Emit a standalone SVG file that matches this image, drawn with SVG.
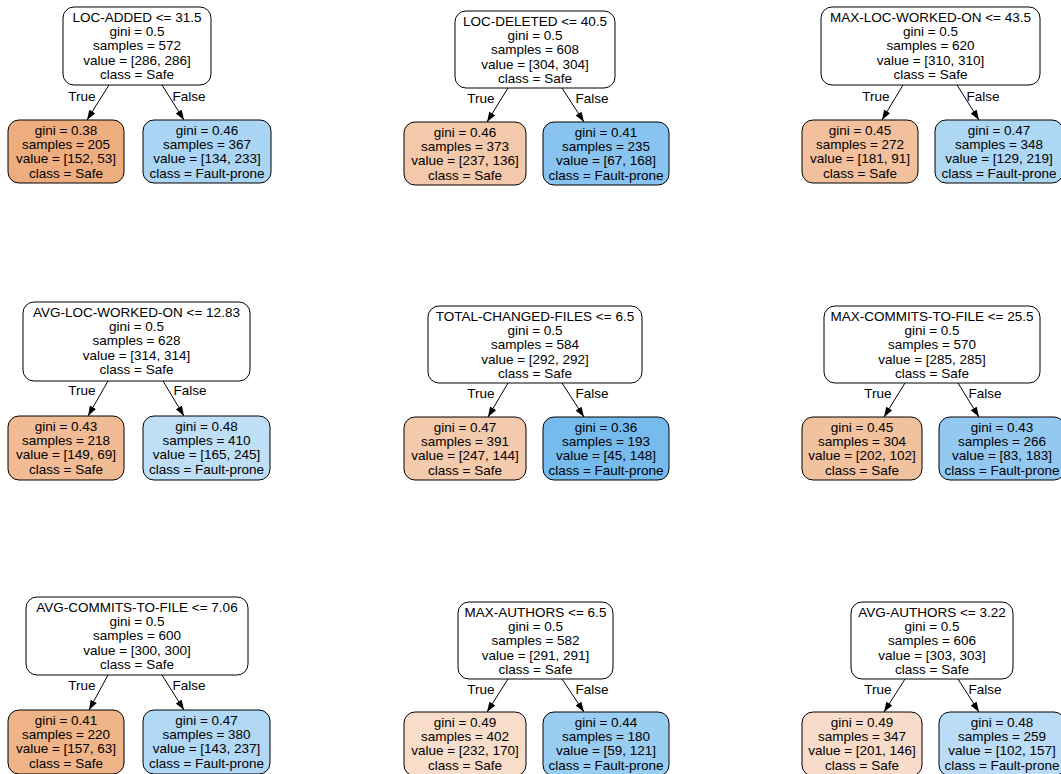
<svg xmlns="http://www.w3.org/2000/svg" width="1061" height="774" viewBox="0 0 1061 774">
<style>
text{font-family:"Liberation Sans",Arial,Helvetica,sans-serif;font-size:13.5px;fill:#000;text-anchor:middle}
rect{stroke:#000;stroke-width:1;rx:11;ry:11}
.root{fill:#fff}
.edge{stroke:#000;stroke-width:1;fill:none;marker-end:url(#arr)}
</style>
<defs>
<marker id="arr" markerUnits="userSpaceOnUse" markerWidth="10" markerHeight="8" refX="10" refY="3.5" orient="auto"><path d="M0,0 L10,3.5 L0,7 z" fill="#000"/></marker>
</defs>
<rect x="0" y="0" width="1061" height="774" fill="#fff" style="stroke:none"/>

<g id="connectors">
<path class="edge" d="M109,85 L87,120"/><path class="edge" d="M162,85 L184,120"/>
<path class="edge" d="M508,88 L487,122"/><path class="edge" d="M562,88 L584,122"/>
<path class="edge" d="M903,85 L882,120"/><path class="edge" d="M957,85 L979,120"/>
<path class="edge" d="M108,381 L88,416"/><path class="edge" d="M163,381 L184,416"/>
<path class="edge" d="M508,383 L488,417"/><path class="edge" d="M562,383 L584,417"/>
<path class="edge" d="M905,383 L884,417"/><path class="edge" d="M958,383 L979,417"/>
<path class="edge" d="M108,675 L89,710"/><path class="edge" d="M162,675 L184,710"/>
<path class="edge" d="M508,679 L487,712"/><path class="edge" d="M562,679 L584,712"/>
<path class="edge" d="M905,679 L884,712"/><path class="edge" d="M958,679 L979,712"/>
<text x="82" y="100.5">True</text><text x="189" y="100.5">False</text>
<text x="481" y="102.5">True</text><text x="592" y="102.5">False</text>
<text x="876" y="100.5">True</text><text x="983" y="100.5">False</text>
<text x="82" y="394.5">True</text><text x="190" y="394.5">False</text>
<text x="481" y="397.5">True</text><text x="592" y="397.5">False</text>
<text x="878" y="397.5">True</text><text x="985" y="397.5">False</text>
<text x="82" y="689.5">True</text><text x="189" y="689.5">False</text>
<text x="481" y="693.5">True</text><text x="592" y="693.5">False</text>
<text x="878" y="693.5">True</text><text x="985" y="693.5">False</text>
</g>

<!-- Tree 1 -->
<g id="t1-root"><rect class="root" x="63" y="7" width="148" height="78"/>
<text x="137" y="21.8"><tspan x="137">LOC-ADDED &lt;= 31.5</tspan><tspan x="137" dy="14.3">gini = 0.5</tspan><tspan x="137" dy="14.3">samples = 572</tspan><tspan x="137" dy="14.3">value = [286, 286]</tspan><tspan x="137" dy="14.3">class = Safe</tspan></text></g>
<g id="t1-left"><rect x="8" y="120" width="116" height="63" fill="#eead7e"/>
<text x="66" y="134.8"><tspan x="66">gini = 0.38</tspan><tspan x="66" dy="14.3">samples = 205</tspan><tspan x="66" dy="14.3">value = [152, 53]</tspan><tspan x="66" dy="14.3">class = Safe</tspan></text></g>
<g id="t1-right"><rect x="143" y="120" width="128" height="63" fill="#abd5f4"/>
<text x="207" y="134.8"><tspan x="207">gini = 0.46</tspan><tspan x="207" dy="14.3">samples = 367</tspan><tspan x="207" dy="14.3">value = [134, 233]</tspan><tspan x="207" dy="14.3">class = Fault-prone</tspan></text></g>

<!-- Tree 2 -->
<g id="t2-root"><rect class="root" x="455" y="11" width="160" height="77"/>
<text x="535" y="25.8"><tspan x="535">LOC-DELETED &lt;= 40.5</tspan><tspan x="535" dy="14.3">gini = 0.5</tspan><tspan x="535" dy="14.3">samples = 608</tspan><tspan x="535" dy="14.3">value = [304, 304]</tspan><tspan x="535" dy="14.3">class = Safe</tspan></text></g>
<g id="t2-left"><rect x="404" y="122" width="122" height="63" fill="#f4c9ab"/>
<text x="465" y="136.8"><tspan x="465">gini = 0.46</tspan><tspan x="465" dy="14.3">samples = 373</tspan><tspan x="465" dy="14.3">value = [237, 136]</tspan><tspan x="465" dy="14.3">class = Safe</tspan></text></g>
<g id="t2-right"><rect x="543" y="122" width="126" height="63" fill="#88c4ef"/>
<text x="606" y="136.8"><tspan x="606">gini = 0.41</tspan><tspan x="606" dy="14.3">samples = 235</tspan><tspan x="606" dy="14.3">value = [67, 168]</tspan><tspan x="606" dy="14.3">class = Fault-prone</tspan></text></g>

<!-- Tree 3 -->
<g id="t3-root"><rect class="root" x="821" y="7" width="219" height="78"/>
<text x="930.5" y="21.8"><tspan x="930.5">MAX-LOC-WORKED-ON &lt;= 43.5</tspan><tspan x="930.5" dy="14.3">gini = 0.5</tspan><tspan x="930.5" dy="14.3">samples = 620</tspan><tspan x="930.5" dy="14.3">value = [310, 310]</tspan><tspan x="930.5" dy="14.3">class = Safe</tspan></text></g>
<g id="t3-left"><rect x="802" y="120" width="116" height="63" fill="#f2c09d"/>
<text x="860" y="134.8"><tspan x="860">gini = 0.45</tspan><tspan x="860" dy="14.3">samples = 272</tspan><tspan x="860" dy="14.3">value = [181, 91]</tspan><tspan x="860" dy="14.3">class = Safe</tspan></text></g>
<g id="t3-right"><rect x="935" y="120" width="128" height="63" fill="#aed7f4"/>
<text x="999" y="134.8"><tspan x="999">gini = 0.47</tspan><tspan x="999" dy="14.3">samples = 348</tspan><tspan x="999" dy="14.3">value = [129, 219]</tspan><tspan x="999" dy="14.3">class = Fault-prone</tspan></text></g>

<!-- Tree 4 -->
<g id="t4-root"><rect class="root" x="23" y="302" width="227" height="79"/>
<text x="136.5" y="316.8"><tspan x="136.5">AVG-LOC-WORKED-ON &lt;= 12.83</tspan><tspan x="136.5" dy="14.3">gini = 0.5</tspan><tspan x="136.5" dy="14.3">samples = 628</tspan><tspan x="136.5" dy="14.3">value = [314, 314]</tspan><tspan x="136.5" dy="14.3">class = Safe</tspan></text></g>
<g id="t4-left"><rect x="8" y="416" width="116" height="64" fill="#f1bb95"/>
<text x="66" y="430.8"><tspan x="66">gini = 0.43</tspan><tspan x="66" dy="14.3">samples = 218</tspan><tspan x="66" dy="14.3">value = [149, 69]</tspan><tspan x="66" dy="14.3">class = Safe</tspan></text></g>
<g id="t4-right"><rect x="143" y="416" width="127" height="64" fill="#bedff6"/>
<text x="206.5" y="430.8"><tspan x="206.5">gini = 0.48</tspan><tspan x="206.5" dy="14.3">samples = 410</tspan><tspan x="206.5" dy="14.3">value = [165, 245]</tspan><tspan x="206.5" dy="14.3">class = Fault-prone</tspan></text></g>

<!-- Tree 5 -->
<g id="t5-root"><rect class="root" x="428" y="306" width="214" height="77"/>
<text x="535" y="320.8"><tspan x="535">TOTAL-CHANGED-FILES &lt;= 6.5</tspan><tspan x="535" dy="14.3">gini = 0.5</tspan><tspan x="535" dy="14.3">samples = 584</tspan><tspan x="535" dy="14.3">value = [292, 292]</tspan><tspan x="535" dy="14.3">class = Safe</tspan></text></g>
<g id="t5-left"><rect x="404" y="417" width="122" height="63" fill="#f4caac"/>
<text x="465" y="431.8"><tspan x="465">gini = 0.47</tspan><tspan x="465" dy="14.3">samples = 391</tspan><tspan x="465" dy="14.3">value = [247, 144]</tspan><tspan x="465" dy="14.3">class = Safe</tspan></text></g>
<g id="t5-right"><rect x="543" y="417" width="126" height="63" fill="#75bbed"/>
<text x="606" y="431.8"><tspan x="606">gini = 0.36</tspan><tspan x="606" dy="14.3">samples = 193</tspan><tspan x="606" dy="14.3">value = [45, 148]</tspan><tspan x="606" dy="14.3">class = Fault-prone</tspan></text></g>

<!-- Tree 6 -->
<g id="t6-root"><rect class="root" x="824" y="306" width="216" height="77"/>
<text x="932" y="320.8"><tspan x="932">MAX-COMMITS-TO-FILE &lt;= 25.5</tspan><tspan x="932" dy="14.3">gini = 0.5</tspan><tspan x="932" dy="14.3">samples = 570</tspan><tspan x="932" dy="14.3">value = [285, 285]</tspan><tspan x="932" dy="14.3">class = Safe</tspan></text></g>
<g id="t6-left"><rect x="802" y="417" width="120" height="63" fill="#f2c19d"/>
<text x="862" y="431.8"><tspan x="862">gini = 0.45</tspan><tspan x="862" dy="14.3">samples = 304</tspan><tspan x="862" dy="14.3">value = [202, 102]</tspan><tspan x="862" dy="14.3">class = Safe</tspan></text></g>
<g id="t6-right"><rect x="939" y="417" width="126" height="63" fill="#93c9f1"/>
<text x="1002" y="431.8"><tspan x="1002">gini = 0.43</tspan><tspan x="1002" dy="14.3">samples = 266</tspan><tspan x="1002" dy="14.3">value = [83, 183]</tspan><tspan x="1002" dy="14.3">class = Fault-prone</tspan></text></g>

<!-- Tree 7 -->
<g id="t7-root"><rect class="root" x="26" y="597" width="222" height="78"/>
<text x="137" y="611.8"><tspan x="137">AVG-COMMITS-TO-FILE &lt;= 7.06</tspan><tspan x="137" dy="14.3">gini = 0.5</tspan><tspan x="137" dy="14.3">samples = 600</tspan><tspan x="137" dy="14.3">value = [300, 300]</tspan><tspan x="137" dy="14.3">class = Safe</tspan></text></g>
<g id="t7-left"><rect x="8" y="710" width="116" height="64" fill="#efb488"/>
<text x="66" y="724.8"><tspan x="66">gini = 0.41</tspan><tspan x="66" dy="14.3">samples = 220</tspan><tspan x="66" dy="14.3">value = [157, 63]</tspan><tspan x="66" dy="14.3">class = Safe</tspan></text></g>
<g id="t7-right"><rect x="143" y="710" width="127" height="64" fill="#b1d8f5"/>
<text x="206.5" y="724.8"><tspan x="206.5">gini = 0.47</tspan><tspan x="206.5" dy="14.3">samples = 380</tspan><tspan x="206.5" dy="14.3">value = [143, 237]</tspan><tspan x="206.5" dy="14.3">class = Fault-prone</tspan></text></g>

<!-- Tree 8 -->
<g id="t8-root"><rect class="root" x="458" y="602" width="155" height="77"/>
<text x="535.5" y="616.8"><tspan x="535.5">MAX-AUTHORS &lt;= 6.5</tspan><tspan x="535.5" dy="14.3">gini = 0.5</tspan><tspan x="535.5" dy="14.3">samples = 582</tspan><tspan x="535.5" dy="14.3">value = [291, 291]</tspan><tspan x="535.5" dy="14.3">class = Safe</tspan></text></g>
<g id="t8-left"><rect x="404" y="712" width="122" height="64" fill="#f8ddca"/>
<text x="465" y="726.8"><tspan x="465">gini = 0.49</tspan><tspan x="465" dy="14.3">samples = 402</tspan><tspan x="465" dy="14.3">value = [232, 170]</tspan><tspan x="465" dy="14.3">class = Safe</tspan></text></g>
<g id="t8-right"><rect x="543" y="712" width="126" height="64" fill="#9acdf2"/>
<text x="606" y="726.8"><tspan x="606">gini = 0.44</tspan><tspan x="606" dy="14.3">samples = 180</tspan><tspan x="606" dy="14.3">value = [59, 121]</tspan><tspan x="606" dy="14.3">class = Fault-prone</tspan></text></g>

<!-- Tree 9 -->
<g id="t9-root"><rect class="root" x="851" y="602" width="162" height="77"/>
<text x="932" y="616.8"><tspan x="932">AVG-AUTHORS &lt;= 3.22</tspan><tspan x="932" dy="14.3">gini = 0.5</tspan><tspan x="932" dy="14.3">samples = 606</tspan><tspan x="932" dy="14.3">value = [303, 303]</tspan><tspan x="932" dy="14.3">class = Safe</tspan></text></g>
<g id="t9-left"><rect x="802" y="712" width="120" height="64" fill="#f8dcc9"/>
<text x="862" y="726.8"><tspan x="862">gini = 0.49</tspan><tspan x="862" dy="14.3">samples = 347</tspan><tspan x="862" dy="14.3">value = [201, 146]</tspan><tspan x="862" dy="14.3">class = Safe</tspan></text></g>
<g id="t9-right"><rect x="939" y="712" width="126" height="64" fill="#badcf6"/>
<text x="1002" y="726.8"><tspan x="1002">gini = 0.48</tspan><tspan x="1002" dy="14.3">samples = 259</tspan><tspan x="1002" dy="14.3">value = [102, 157]</tspan><tspan x="1002" dy="14.3">class = Fault-prone</tspan></text></g>
</svg>
